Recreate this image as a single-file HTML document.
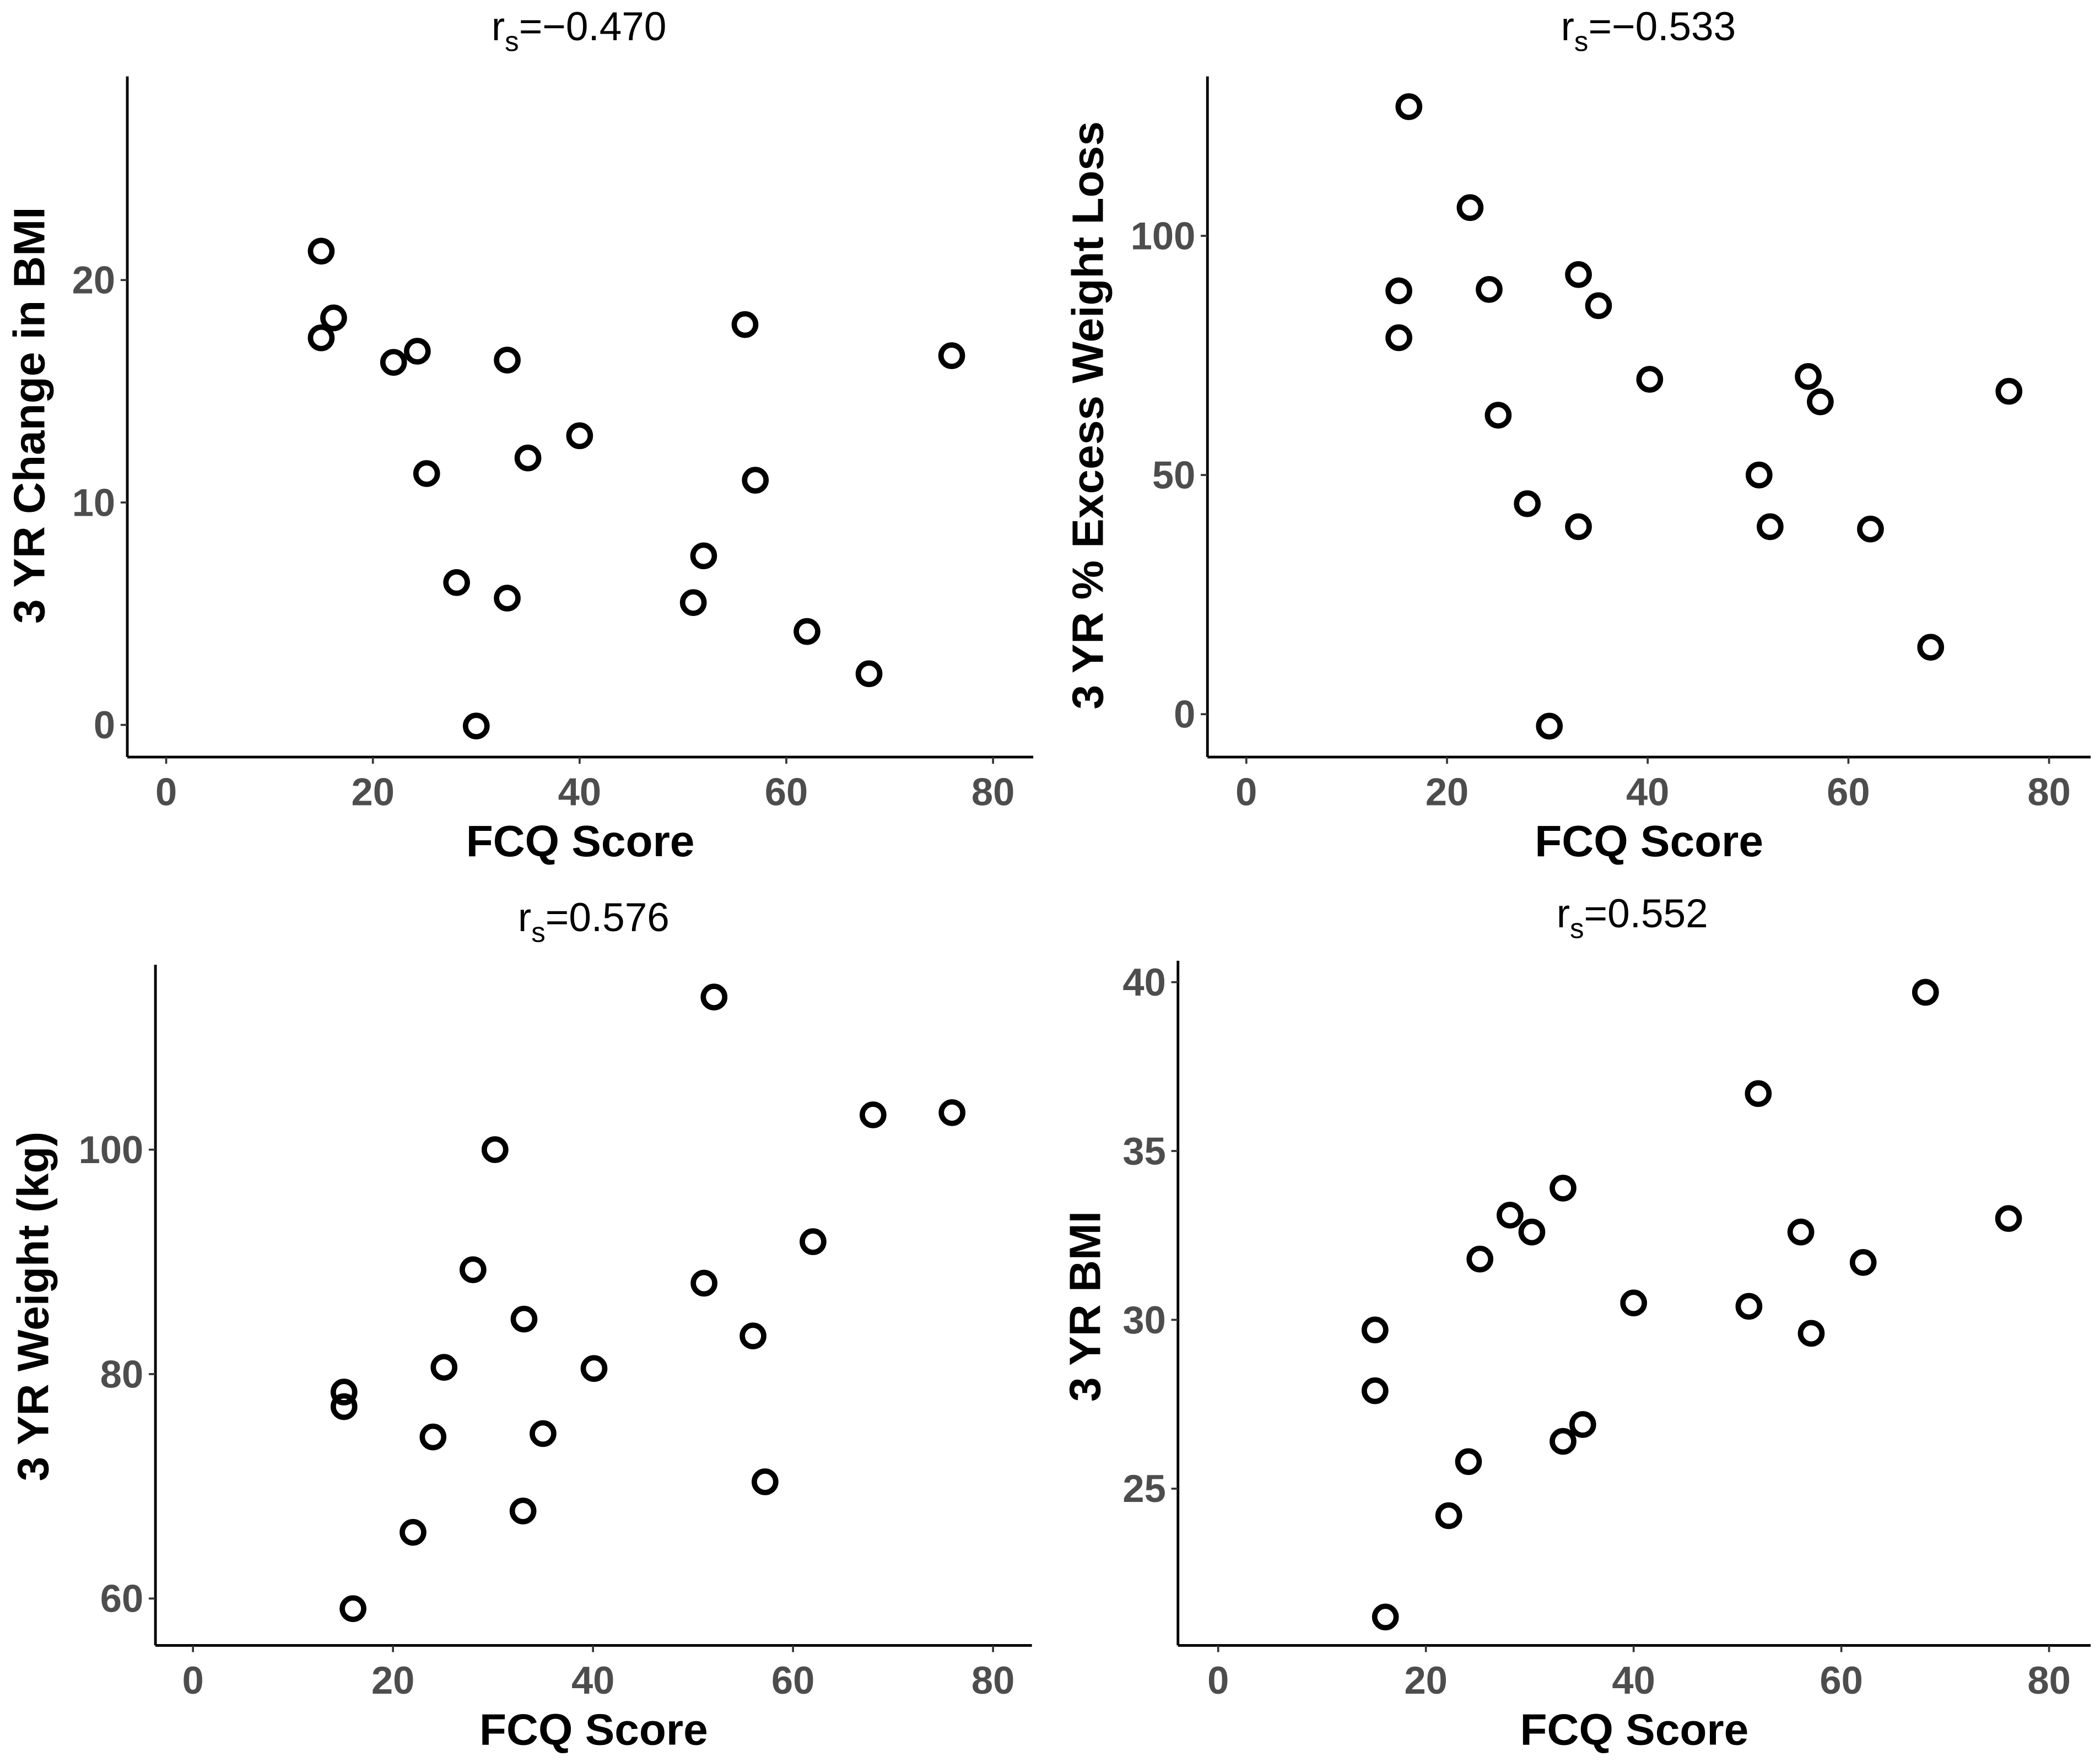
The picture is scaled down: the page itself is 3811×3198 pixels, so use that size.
<!DOCTYPE html>
<html><head><meta charset="utf-8"><style>
html,body{margin:0;padding:0;background:#fff;}
svg{display:block;}
text{font-family:"Liberation Sans",Arial,sans-serif;}
</style></head><body>
<svg id="chart" width="3811" height="3198" viewBox="0 0 1567 1315" preserveAspectRatio="none" xmlns="http://www.w3.org/2000/svg"></svg>
<script>
const fcq1=[15,16.2,15,22,24.3,33,25.2,28.1,33,30,35,40,51,52,56,57,62,68,76];
const bmiChange=[21.3,18.3,17.4,16.3,16.8,16.4,11.3,6.4,5.7,-0.05,12,13,5.5,7.6,18,11,4.2,2.3,16.6];
const fcq2=[16.2,15.2,15.2,22.3,24.2,25.1,28,30.2,33.1,33.1,35.1,40.2,51.1,52.2,56,57.2,62.2,68.2,76];
const ewl=[127,88.5,78.7,105.9,88.8,62.5,44,-2.5,91.9,39.2,85.4,70,50,39.2,70.6,65.3,38.7,14,67.5];
const fcq3=[52.1,75.9,68,30.2,28,62,51.1,33.1,56,25.1,40.1,15.1,15.1,24,35,57.2,33,22,16];
const weight=[113.6,103.3,103.1,100,89.3,91.8,88.1,84.9,83.4,80.6,80.5,78.4,77.1,74.4,74.7,70.4,67.8,65.9,59.1];
const fcq4=[68.1,52,33.2,76.1,28.1,30.2,56.1,25.2,62.1,40,51.1,57.1,15.1,15.1,35.1,33.2,24.1,22.2,16.1];
const bmi3=[39.7,36.7,33.9,33,33.1,32.6,32.6,31.8,31.7,30.5,30.4,29.6,29.7,27.9,26.9,26.4,25.8,24.2,21.2];
const xTicks=[0,20,40,60,80];
const yTicks1=[0,10,20];
const yTicks2=[0,50,100];
const yTicks3=[60,80,100];
const yTicks4=[25,30,35,40];
const titles=["−0.470","−0.533","0.576","0.552"];
const yTitles=["3 YR Change in BMI","3 YR % Excess Weight Loss","3 YR Weight (kg)","3 YR BMI"];

const NS="http://www.w3.org/2000/svg";
const svg=document.getElementById('chart');
function mk(tag,attrs,parent){const e=document.createElementNS(NS,tag);for(const k in attrs)e.setAttribute(k,attrs[k]);(parent||svg).appendChild(e);return e;}

const panels=[
 {xs:fcq1,ys:bmiChange,yt:yTicks1,ax:95,top:57,bottom:565,right:771,x0:124,x80:741,ya:0,yaPx:541,yb:20,ybPx:209,tx:432,ty:20,ylx:22,yly:310,name:'bmi-change'},
 {xs:fcq2,ys:ewl,yt:yTicks2,ax:901,top:57,bottom:565,right:1560,x0:930,x80:1529,ya:0,yaPx:533,yb:100,ybPx:176,tx:1230,ty:20,ylx:812,yly:310,name:'excess-weight-loss'},
 {xs:fcq3,ys:weight,yt:yTicks3,ax:116,top:720,bottom:1228,right:770,x0:144,x80:741,ya:60,yaPx:1193,yb:100,ybPx:858,tx:443,ty:685,ylx:25,yly:975,name:'weight'},
 {xs:fcq4,ys:bmi3,yt:yTicks4,ax:879,top:717,bottom:1228,right:1560,x0:909,x80:1529,ya:25,yaPx:1111,yb:40,ybPx:733,tx:1218,ty:682,ylx:810,yly:975,name:'bmi'}
];

panels.forEach((p,i)=>{
 const g=mk('g',{});
 
 
 const X=v=>p.x0+(v/80)*(p.x80-p.x0);
 const Y=v=>p.yaPx+(v-p.ya)/(p.yb-p.ya)*(p.ybPx-p.yaPx);
 const t=mk('text',{x:p.tx,y:p.ty+10,'text-anchor':'middle','font-size':30,fill:'#000'},g);
 
 
 const r=mk('tspan',{},t);r.textContent='r';
 const s=mk('tspan',{'font-size':21,dy:8},t);s.textContent='s';
 const v=mk('tspan',{dy:-8},t);v.textContent='='+titles[i];
 const ya=mk('line',{x1:p.ax,y1:p.top,x2:p.ax,y2:p.bottom,stroke:'#000','stroke-width':2},g);
 
 
 const xa=mk('line',{x1:p.ax,y1:p.bottom,x2:p.right,y2:p.bottom,stroke:'#000','stroke-width':2},g);
 
 
 xTicks.forEach(tk=>{
  const x=X(tk);
  mk('line',{x1:x,y1:p.bottom,x2:x,y2:p.bottom+5,stroke:'#333','stroke-width':1.5},g);
  const lb=mk('text',{x:x,y:p.bottom+36,'text-anchor':'middle','font-size':29,'font-weight':'bold',fill:'#4d4d4d'},g);
  
  
  lb.textContent=tk;
 });
 p.yt.forEach(tk=>{
  const y=Y(tk);
  mk('line',{x1:p.ax-5,y1:y,x2:p.ax,y2:y,stroke:'#333','stroke-width':1.5},g);
  const lb=mk('text',{x:p.ax-9,y:y+10,'text-anchor':'end','font-size':29,'font-weight':'bold',fill:'#4d4d4d'},g);
  
  
  lb.textContent=tk;
 });
 const xl=mk('text',{x:(p.ax+p.right)/2,y:p.bottom+74,'text-anchor':'middle','font-size':33,'font-weight':'bold',fill:'#000'},g);
 
 
 xl.textContent='FCQ Score';
 const yl=mk('text',{x:0,y:0,'text-anchor':'middle','font-size':33,'font-weight':'bold',fill:'#000',transform:`translate(${p.ylx+11},${p.yly}) rotate(-90)`},g);
 
 
 yl.textContent=yTitles[i];
 p.xs.forEach((xv,j)=>{
  const c=mk('circle',{cx:X(xv),cy:Y(p.ys[j]),r:8,fill:'none',stroke:'#000','stroke-width':4},g);
  
  
 });
});
</script>
</body></html>
